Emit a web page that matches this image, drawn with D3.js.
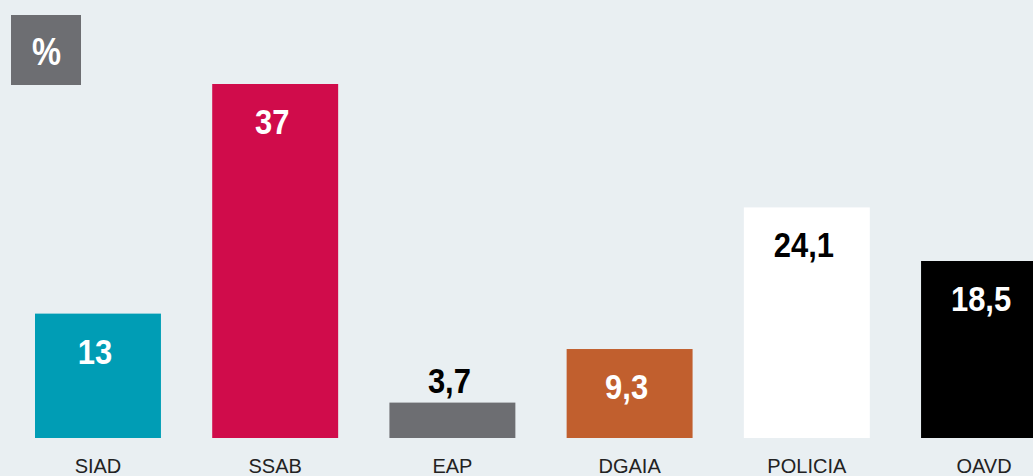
<!DOCTYPE html>
<html>
<head>
<meta charset="utf-8">
<script src="https://cdn.jsdelivr.net/npm/d3@7"></script>
<style>
html,body{margin:0;padding:0;background:#e9eff2;}
svg{display:block;}
</style>
</head>
<body>
<svg id="chart" width="1033" height="476"></svg>
<script>
const categories = ["SIAD", "SSAB", "EAP", "DGAIA", "POLICIA", "OAVD"];
const values = [13, 37, 3.7, 9.3, 24.1, 18.5];
const valueLabels = ["13", "37", "3,7", "9,3", "24,1", "18,5"];
const barColors = ["#009db5", "#d00c4b", "#6d6e72", "#c15f2e", "#ffffff", "#000000"];
const labelColors = ["#ffffff", "#ffffff", "#000000", "#ffffff", "#000000", "#ffffff"];
const unitLabel = "%";

const svg = d3.select("#chart");
const W = 1033, H = 476;
svg.append("rect").attr("width", W).attr("height", H).attr("fill", "#e9eff2");

const x = d3.scaleBand().domain(categories).range([35, 1047]).paddingInner(0.2893).paddingOuter(0);
const y = d3.scaleLinear().domain([0, 37]).range([438, 84]);

const boldFont = "'Liberation Sans Narrow','Arial Narrow','Liberation Sans',Arial,sans-serif";
const squeeze = 0.86;

const g = svg.append("g");
const data = categories.map((c, i) => ({c, v: values[i], lab: valueLabels[i], col: barColors[i], lc: labelColors[i]}));

g.selectAll("rect.bar").data(data).join("rect")
  .attr("class", "bar")
  .attr("x", d => x(d.c))
  .attr("y", d => y(d.v))
  .attr("width", x.bandwidth())
  .attr("height", d => y(0) - y(d.v))
  .attr("fill", d => d.col);

const inside = d => (y(0) - y(d.v)) > 60;
g.selectAll("text.val").data(data).join("text")
  .attr("class", "val")
  .attr("transform", d => `translate(${x(d.c) + x.bandwidth() / 2 - 3},${inside(d) ? y(d.v) + 50 : y(d.v) - 10}) scale(${squeeze},1)`)
  .attr("text-anchor", "middle")
  .attr("font-family", boldFont)
  .attr("font-weight", "bold")
  .attr("font-size", 36)
  .attr("fill", d => inside(d) ? d.lc : "#000000")
  .text(d => d.lab);

const xAxis = d3.axisBottom(x).tickSize(0).tickPadding(0);
const ax = svg.append("g").attr("transform", "translate(0,455)").call(xAxis);
ax.select(".domain").remove();
ax.selectAll("text")
  .attr("dy", null)
  .attr("y", 18)
  .attr("font-family", "'Liberation Sans',Arial,sans-serif")
  .attr("font-size", 20)
  .attr("fill", "#222222");

svg.append("rect").attr("x", 11).attr("y", 15).attr("width", 70).attr("height", 70).attr("fill", "#6d6e72");
svg.append("text").attr("transform", `translate(46.5,65) scale(${squeeze},1)`).attr("text-anchor", "middle")
  .attr("font-family", boldFont).attr("font-weight", "bold").attr("font-size", 38)
  .attr("fill", "#ffffff").text(unitLabel);
</script>
</body>
</html>
